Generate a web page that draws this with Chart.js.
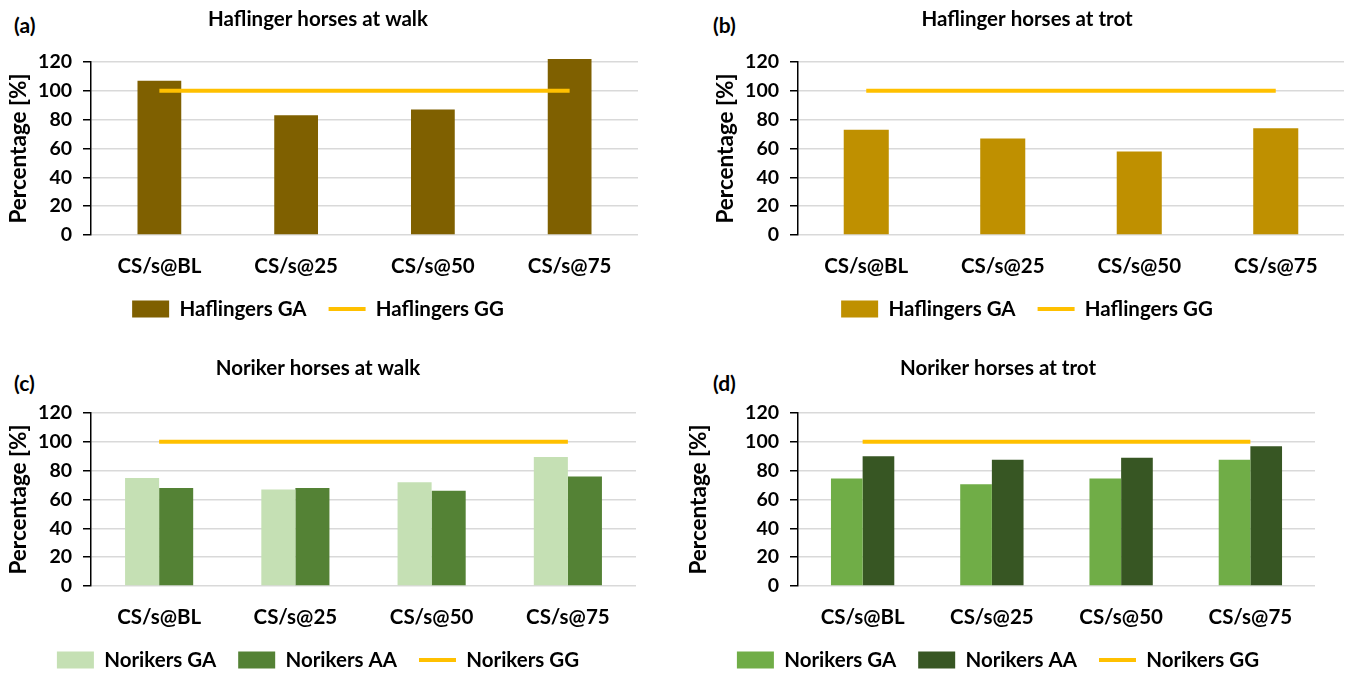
<!DOCTYPE html>
<html>
<head>
<meta charset="utf-8">
<script src="https://cdn.jsdelivr.net/npm/chart.js@4.4.0/dist/chart.umd.min.js"></script>
<style>
  html, body { margin: 0; padding: 0; background: #fff; }
  #wrap { position: relative; width: 1346px; height: 673px; overflow: hidden; background: #fff; }
  canvas { position: absolute; }
  .plabel { position: absolute; font-family: Lato, "Liberation Sans", sans-serif; font-weight: bold; font-size: 21px; color: #000; line-height: 24px; }
</style>
</head>
<body>
<div id="wrap">
  <div class="plabel" style="left:14px; top:13px;">(a)</div>
  <div class="plabel" style="left:713px; top:13px;">(b)</div>
  <div class="plabel" style="left:14px; top:371px;">(c)</div>
  <div class="plabel" style="left:713px; top:371px;">(d)</div>
</div>
<script>
// ---- data ----
const categories = ['CS/s@BL', 'CS/s@25', 'CS/s@50', 'CS/s@75'];
const yTicks = [0, 20, 40, 60, 80, 100, 120];
const haflingerWalkGA = [107, 83, 87, 122];
const haflingerWalkGG = [100, 100, 100, 100];
const haflingerTrotGA = [73, 67, 58, 74];
const haflingerTrotGG = [100, 100, 100, 100];
const norikerWalkGA = [75, 67, 72, 89.5];
const norikerWalkAA = [68, 68, 66, 76];
const norikerWalkGG = [100, 100, 100, 100];
const norikerTrotGA = [74.5, 70.5, 74.5, 87.5];
const norikerTrotAA = [90, 87.5, 89, 97];
const norikerTrotGG = [100, 100, 100, 100];

Chart.defaults.font.family = 'Lato, "Open Sans", sans-serif';
Chart.defaults.font.weight = 'bold';
Chart.defaults.color = '#000';

const LINE_COLOR = '#FFC000';

function barDs(label, data, color) {
  return { type: 'bar', label, data, backgroundColor: color, borderWidth: 0, pointStyle: 'rect', order: 1, clip: false };
}
function lineDs(label, data) {
  return { type: 'line', label, data, borderColor: LINE_COLOR, backgroundColor: LINE_COLOR, borderWidth: 4,
           pointRadius: 0, pointHoverRadius: 0, pointStyle: 'line', fill: false, order: 0 };
}

function makePanel(cfg) {
  const wrap = document.getElementById('wrap');
  const cv = document.createElement('canvas');
  cv.width = cfg.w; cv.height = cfg.h;
  cv.style.left = cfg.x + 'px'; cv.style.top = cfg.y + 'px';
  cv.style.width = cfg.w + 'px'; cv.style.height = cfg.h + 'px';
  wrap.appendChild(cv);
  const state = { xh: 50 };
  const TF = 20.5;
  const options = {
    responsive: false,
    animation: false,
    devicePixelRatio: 1,
    layout: { padding: { left: 0, right: 0, top: 0, bottom: 0 } },
    datasets: { bar: { barPercentage: 1, categoryPercentage: cfg.catPct } },
    plugins: {
      tooltip: { enabled: false },
      title: {
        display: true, text: cfg.title, color: '#000',
        font: { size: TF, weight: 'bold' },
        padding: { top: cfg.titleY - cfg.y - TF * 0.6, bottom: 20 }
      },
      legend: {
        display: true, position: 'bottom',
        labels: {
          usePointStyle: true, pointStyleWidth: 37, boxHeight: 17,
          font: { size: 20.5, weight: 'bold' }, color: '#000', padding: 22,
          sort: (a, b) => a.datasetIndex - b.datasetIndex
        }
      }
    },
    scales: {
      x: {
        grid: { display: false, drawTicks: false },
        border: { display: false },
        ticks: { font: { size: 20.5, weight: 'bold' }, color: '#000', padding: 19 },
        afterFit: (s) => { s.height = state.xh; }
      },
      y: {
        min: 0, max: 120,
        afterBuildTicks: (s) => { s.ticks = yTicks.map(v => ({ value: v })); },
        grid: { color: '#D9D9D9', lineWidth: 1.5, tickLength: 8, tickColor: '#000', tickWidth: 1.5 },
        border: { display: true, color: '#000', width: 1.5 },
        ticks: { font: { size: 19.5, weight: 'bold' }, color: '#000', padding: 11 },
        title: { display: true, text: 'Percentage [%]', color: '#000', font: { size: 22.5, weight: 'bold' },
                 padding: { top: cfg.ytPad, bottom: 0 } },
        afterFit: (s) => { s.width = cfg.yw; }
      }
    }
  };
  const chart = new Chart(cv, { type: 'bar', data: { labels: categories, datasets: cfg.datasets }, options });
  // fine-tune layout to the target plot area
  const ca = chart.chartArea;
  options.plugins.title.padding.bottom += (cfg.top - cfg.y) - ca.top;
  const hb = chart.legend.legendHitBoxes && chart.legend.legendHitBoxes[0];
  const lc = hb ? hb.top + hb.height / 2 : chart.legend.top + chart.legend.height / 2;
  const wantL = cfg.legendY - cfg.y, wantB = cfg.bottom - cfg.y;
  state.xh += (wantL - lc) - (wantB - ca.bottom);
  options.layout.padding.bottom += (lc - wantL);
  chart.update('none');
  return chart;
}

makePanel({
  x: -4, y: 0, w: 644, h: 336, yw: 95, ytPad: 9, catPct: 0.32,
  title: 'Haflinger horses at walk', titleY: 19, top: 62, bottom: 235, legendY: 309,
  datasets: [barDs('Haflingers GA', haflingerWalkGA, '#7F6000'), lineDs('Haflingers GG', haflingerWalkGG)]
});
makePanel({
  x: 708, y: 0, w: 638, h: 336, yw: 90, ytPad: 4, catPct: 0.33,
  title: 'Haflinger horses at trot', titleY: 19, top: 62, bottom: 235, legendY: 309,
  datasets: [barDs('Haflingers GA', haflingerTrotGA, '#BF9000'), lineDs('Haflingers GG', haflingerTrotGG)]
});
makePanel({
  x: -2, y: 336, w: 640, h: 337, yw: 93, ytPad: 7, catPct: 0.5,
  title: 'Noriker horses at walk', titleY: 368, top: 413, bottom: 586, legendY: 660,
  datasets: [barDs('Norikers GA', norikerWalkGA, '#C5E0B4'), barDs('Norikers AA', norikerWalkAA, '#548235'),
             lineDs('Norikers GG', norikerWalkGG)]
});
makePanel({
  x: 679, y: 336, w: 638, h: 337, yw: 119, ytPad: 6, catPct: 0.49,
  title: 'Noriker horses at trot', titleY: 368, top: 413, bottom: 586, legendY: 660,
  datasets: [barDs('Norikers GA', norikerTrotGA, '#70AD47'), barDs('Norikers AA', norikerTrotAA, '#375623'),
             lineDs('Norikers GG', norikerTrotGG)]
});
</script>
</body>
</html>
